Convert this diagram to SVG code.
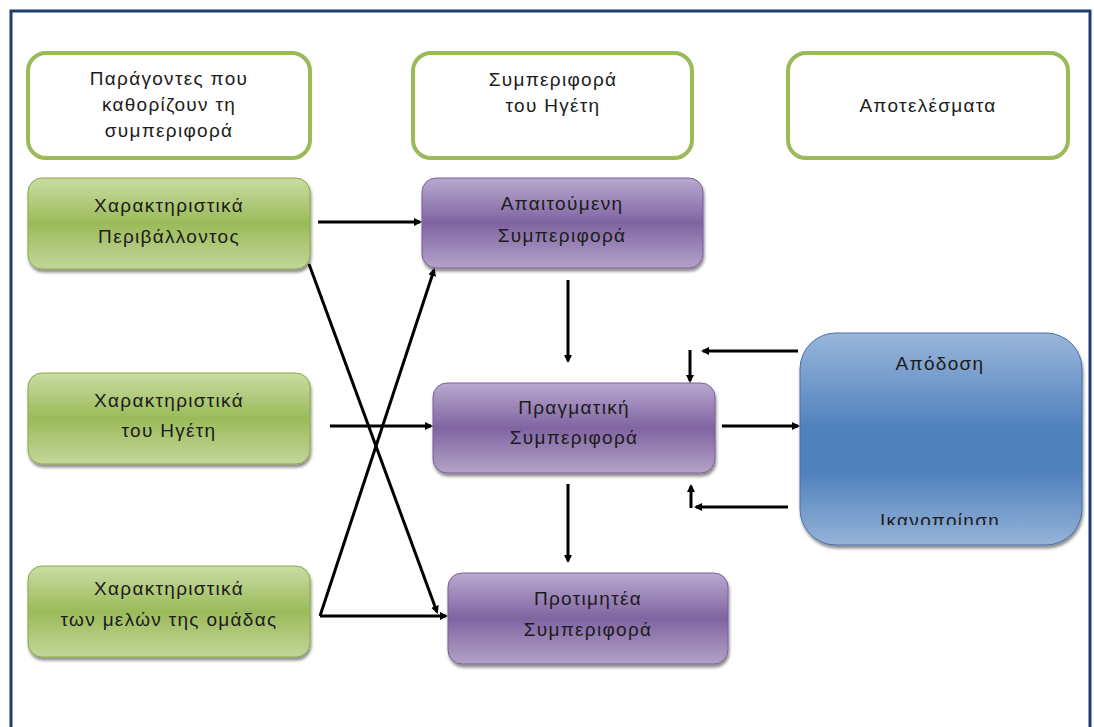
<svg xmlns="http://www.w3.org/2000/svg" width="1094" height="727" viewBox="0 0 1094 727">
<style>
text{font-family:"Liberation Sans","Noto Sans",sans-serif;font-size:19px;letter-spacing:1.3px;fill:#1c1c1c;text-anchor:middle}
.hdr{fill:#fff;stroke:#9bbb59;stroke-width:4}
.grn{fill:url(#gG);stroke:#8aa84d;stroke-width:1}
.pur{fill:url(#gP);stroke:#7a5f9c;stroke-width:1}
.blu{fill:url(#gB);stroke:#4a6fa0;stroke-width:1}
.c{stroke:#000;stroke-width:3;fill:none;marker-end:url(#ah)}
</style>
<defs>
<linearGradient id="gG" x1="0" y1="0" x2="0" y2="1"><stop offset="0" stop-color="#c9dca3"/><stop offset="0.5" stop-color="#9bbb59"/><stop offset="1" stop-color="#c3d69b"/></linearGradient>
<linearGradient id="gP" x1="0" y1="0" x2="0" y2="1"><stop offset="0" stop-color="#b9a9cf"/><stop offset="0.5" stop-color="#8064a2"/><stop offset="1" stop-color="#b3a2c7"/></linearGradient>
<linearGradient id="gB" x1="0" y1="0" x2="0" y2="1"><stop offset="0" stop-color="#9ab6da"/><stop offset="0.45" stop-color="#4f81bd"/><stop offset="0.65" stop-color="#4f81bd"/><stop offset="1" stop-color="#95b3d7"/></linearGradient>
<filter id="sh" x="-10%" y="-10%" width="120%" height="130%"><feDropShadow dx="1" dy="3" stdDeviation="1.5" flood-color="#000" flood-opacity="0.45"/></filter>
<marker id="ah" markerWidth="8" markerHeight="8" refX="6" refY="4" orient="auto" markerUnits="userSpaceOnUse" viewBox="0 0 8 8"><path d="M0,0 L8,4 L0,8 z" fill="#000"/></marker>
<clipPath id="clipB"><rect x="800" y="333" width="282" height="192"/></clipPath>
</defs>
<rect x="11" y="11" width="1079" height="730" fill="#fff" stroke="#1f3b73" stroke-width="3"/>

<g id="hdr1"><rect class="hdr" x="28" y="53" width="282" height="105" rx="18"/><text x="169" y="85">Παράγοντες που</text><text x="169" y="111">καθορίζουν τη</text><text x="169" y="137">συμπεριφορά</text></g>
<g id="hdr2"><rect class="hdr" x="413" y="53" width="279" height="105" rx="18"/><text x="553" y="86">Συμπεριφορά</text><text x="553" y="112">του Ηγέτη</text></g>
<g id="hdr3"><rect class="hdr" x="788" y="53" width="280" height="105" rx="18"/><text x="928" y="112">Αποτελέσματα</text></g>

<g id="g1"><rect class="grn" filter="url(#sh)" x="28" y="178" width="282" height="91" rx="14"/><text x="169" y="212">Χαρακτηριστικά</text><text x="169" y="243">Περιβάλλοντος</text></g>
<g id="g2"><rect class="grn" filter="url(#sh)" x="28" y="373" width="282" height="91" rx="14"/><text x="169" y="407">Χαρακτηριστικά</text><text x="169" y="437">του Ηγέτη</text></g>
<g id="g3"><rect class="grn" filter="url(#sh)" x="28" y="566" width="282" height="91" rx="14"/><text x="169" y="595">Χαρακτηριστικά</text><text x="169" y="626">των μελών της ομάδας</text></g>

<g id="p1"><rect class="pur" filter="url(#sh)" x="422" y="178" width="281" height="90" rx="14"/><text x="562" y="210">Απαιτούμενη</text><text x="562" y="242">Συμπεριφορά</text></g>
<g id="p2"><rect class="pur" filter="url(#sh)" x="433" y="383" width="282" height="90" rx="14"/><text x="574" y="414">Πραγματική</text><text x="574" y="444">Συμπεριφορά</text></g>
<g id="p3"><rect class="pur" filter="url(#sh)" x="448" y="573" width="280" height="91" rx="14"/><text x="588" y="605">Προτιμητέα</text><text x="588" y="636">Συμπεριφορά</text></g>

<g id="b1"><rect class="blu" filter="url(#sh)" x="800" y="333" width="282" height="212" rx="36"/><text x="940" y="370">Απόδοση</text><text x="940" y="527" clip-path="url(#clipB)">Ικανοποίηση</text></g>

<g id="connectors">
<path class="c" d="M318,222 H420"/>
<path class="c" d="M309,264 L437,612"/>
<path class="c" d="M320,616 L434,270"/>
<path class="c" d="M320,616 H446"/>
<path class="c" d="M330,426 H431"/>
<path class="c" d="M568,280 V361"/>
<path class="c" d="M568,484 V561"/>
<path class="c" d="M722,426 H798"/>
<path class="c" d="M798,351 H703"/>
<path class="c" d="M690,350 V381"/>
<path class="c" d="M788,507 H696"/>
<path class="c" d="M691,508 V486"/>
</g>
</svg>
